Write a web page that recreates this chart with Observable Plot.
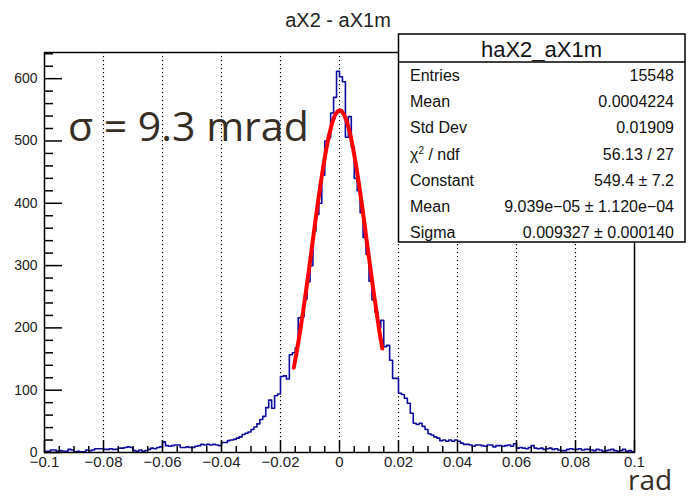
<!DOCTYPE html>
<html>
<head>
<meta charset="utf-8">
<script src="https://cdn.jsdelivr.net/npm/d3@7"></script>
<script src="https://cdn.jsdelivr.net/npm/@observablehq/plot@0.6"></script>
<style>
  body { margin: 0; background: #fff; }
  #chart { position: relative; width: 688px; height: 498px; }
  #chart svg { display: block; }
</style>
</head>
<body>
<div id="chart"></div>
<script>
// histogram haX2_aX1m: 200 bins of 0.001 rad between -0.1 and 0.1
const binStart = -0.1;
const binWidth = 0.001;
const counts = [
  2, 2, 4, 4, 2, 3, 2, 2, 5, 4,
  1, 2, 1, 1, 4, 3, 4, 6, 6, 6,
  5, 5, 6, 5, 5, 7, 7, 8, 9, 8,
  3, 2, 4, 2, 3, 5, 7, 6, 8, 9,
  17, 11, 10, 11, 12, 12, 8, 8, 9, 8,
  8, 10, 11, 13, 12, 13, 12, 13, 12, 11,
  16, 16, 19, 20, 21, 23, 25, 29, 31, 33,
  37, 41, 46, 53, 58, 72, 84, 71, 91, 94,
  122, 123, 118, 157, 160, 168, 216, 218, 246, 274,
  300, 355, 382, 400, 445, 500, 505, 545, 570, 612,
  603, 595, 506, 539, 490, 440, 420, 385, 345, 318,
  275, 245, 225, 200, 212, 170, 172, 148, 119, 119,
  95, 93, 87, 79, 63, 47, 45, 47, 42, 37,
  30, 28, 25, 23, 19, 20, 18, 20, 18, 20,
  18, 15, 13, 13, 12, 10, 12, 12, 11, 10,
  12, 12, 9, 11, 11, 10, 11, 12, 10, 14,
  7, 8, 7, 6, 8, 11, 7, 6, 7, 5,
  6, 7, 5, 6, 4, 3, 3, 5, 6, 5,
  5, 6, 4, 5, 5, 4, 3, 5, 4, 2,
  3, 4, 5, 3, 2, 3, 5, 2, 3, 1
];

// gaussian fit curve
const fitX = [-0.0155, -0.0145, -0.0135, -0.0125, -0.0115, -0.0105, -0.0095, -0.0085, -0.0075, -0.0065,
  -0.0055, -0.0045, -0.0035, -0.0025, -0.0015, -0.0005, 0.0001, 0.0005, 0.0015, 0.0025,
  0.0035, 0.0045, 0.0055, 0.0065, 0.0075, 0.0085, 0.0095, 0.0105, 0.0115, 0.0125, 0.0135, 0.0145];
const fitY = [136, 162, 190, 221, 254, 288, 324, 360, 395, 428,
  459, 487, 510, 529, 542, 548, 549, 549, 543, 531,
  514, 491, 464, 434, 401, 366, 330, 295, 260, 227, 195, 167];

const xMajor = [-0.1, -0.08, -0.06, -0.04, -0.02, 0, 0.02, 0.04, 0.06, 0.08, 0.1];
const xLabels = ["\u22120.1", "\u22120.08", "\u22120.06", "\u22120.04", "\u22120.02", "0", "0.02", "0.04", "0.06", "0.08", "0.1"];
const yMajor = [0, 100, 200, 300, 400, 500, 600];

const title = "aX2 - aX1m";
const statsName = "haX2_aX1m";
const statsLabels = ["Entries", "Mean", "Std Dev", "chi2", "Constant", "Mean", "Sigma"];
const statsValues = ["15548", "0.0004224", "0.01909", "56.13 / 27", "549.4 \u00b1 7.2",
  "9.039e\u221205 \u00b1 1.120e\u221204", "0.009327 \u00b1 0.000140"];

// build tables for the marks
const hist = counts.map((n, i) => ({x: binStart + i * binWidth, n}));
hist.push({x: binStart + counts.length * binWidth, n: counts[counts.length - 1]});
const fit = fitX.map((x, i) => ({x, y: fitY[i]}));
const xMinor = d3.range(-0.1, 0.1001, 0.005).filter(v => !xMajor.some(m => Math.abs(m - v) < 1e-9));
const yMinor = d3.range(0, 641, 20).filter(v => v % 100 !== 0);
const xInner = xMajor.slice(1, -1);

const plot = Plot.plot({
  width: 688,
  height: 498,
  marginLeft: 44,
  marginRight: 54,
  marginTop: 52,
  marginBottom: 46,
  x: {domain: [-0.1, 0.1], label: null},
  y: {domain: [0, 642], label: null},
  style: {fontFamily: "'Liberation Sans', Arial, sans-serif", color: "#222", background: "#fff"},
  marks: [
    Plot.gridX(xInner, {stroke: "#000", strokeOpacity: 1, strokeWidth: 1.1, strokeDasharray: "1.2,2.8"}),
    Plot.lineY(hist, {x: "x", y: "n", curve: "step-after", stroke: "#0c0ca0", strokeWidth: 1.6}),
    Plot.line(fit, {x: "x", y: "y", stroke: "#ff0000", strokeWidth: 4}),
    Plot.frame({stroke: "#000", strokeWidth: 1.5}),
    Plot.axisX(xMajor, {tickSize: -12, text: null, stroke: "#000", strokeWidth: 1.5}),
    Plot.axisX(xMinor, {tickSize: -6, text: null, stroke: "#000", strokeWidth: 1.5}),
    Plot.axisX(xMajor, {tickSize: 0, tickPadding: 4, fontSize: 15, tickFormat: (d, i) => xLabels[i]}),
    Plot.axisY(yMajor, {tickSize: -18, text: null, stroke: "#000", strokeWidth: 1.5}),
    Plot.axisY(yMinor, {tickSize: -9, text: null, stroke: "#000", strokeWidth: 1.5}),
    Plot.axisY(yMajor, {tickSize: 0, tickPadding: 7, fontSize: 14})
  ]
});
const chart = document.querySelector("#chart");
chart.append(plot);

// annotations drawn on top: title, stats box, big sigma text, unit
const ov = d3.select(chart).append("svg")
  .attr("width", 688).attr("height", 498)
  .style("position", "absolute").style("left", 0).style("top", 0)
  .style("font-family", "'Liberation Sans', Arial, sans-serif");

ov.append("text").attr("x", 338).attr("y", 27).attr("text-anchor", "middle")
  .attr("font-size", 20).attr("fill", "#222").text(title);

const box = ov.append("g");
box.append("rect").attr("x", 398.5).attr("y", 34).attr("width", 286.5).attr("height", 208)
  .attr("fill", "#fff").attr("stroke", "#000").attr("stroke-width", 1.5);
box.append("line").attr("x1", 398.5).attr("x2", 685).attr("y1", 62).attr("y2", 62)
  .attr("stroke", "#000").attr("stroke-width", 1.5);
box.append("text").attr("x", 541.5).attr("y", 57).attr("text-anchor", "middle")
  .attr("font-size", 22).attr("fill", "#111").text(statsName);
statsLabels.forEach((lab, i) => {
  const y = 81 + i * 26.2;
  const t = box.append("text").attr("x", 410).attr("y", y).attr("font-size", 16).attr("fill", "#111");
  if (lab === "chi2") {
    t.append("tspan").text("\u03c7");
    t.append("tspan").attr("dy", -6).attr("font-size", 10).text("2");
    t.append("tspan").attr("dy", 6).text(" / ndf");
  } else {
    t.text(lab);
  }
  box.append("text").attr("x", 674).attr("y", y).attr("text-anchor", "end")
    .attr("font-size", 16).attr("fill", "#111").text(statsValues[i]);
});

ov.append("text").attr("x", 68).attr("y", 141).attr("font-size", 41)
  .attr("font-family", "'Open Sans', sans-serif").attr("fill", "#362e25").text("\u03c3 = 9.3 mrad");
ov.append("text").attr("x", 628).attr("y", 490).attr("font-size", 28)
  .attr("font-family", "'Open Sans', sans-serif").attr("fill", "#362e25").text("rad");
</script>
</body>
</html>
